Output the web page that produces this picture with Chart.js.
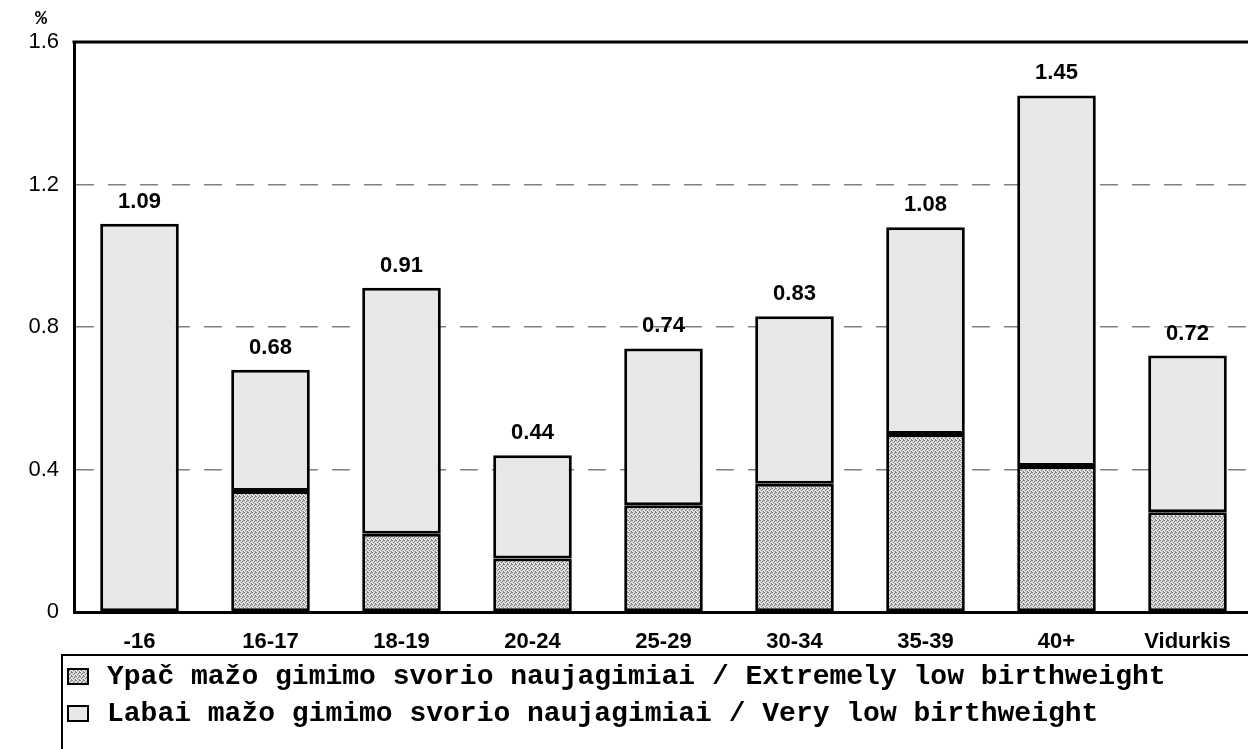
<!DOCTYPE html>
<html><head><meta charset="utf-8">
<script src="https://cdn.jsdelivr.net/npm/chart.js@4"></script>
<style>html,body{margin:0;padding:0;overflow:hidden;background:#fff}#wrap{width:1262px;height:749px;position:relative}</style>
</head><body><div id="wrap"><canvas id="c" width="1262" height="749"></canvas></div>
<script>
const categories = ['-16','16-17','18-19','20-24','25-29','30-34','35-39','40+','Vidurkis'];
const extremelyLow = [0, 0.34, 0.22, 0.15, 0.30, 0.36, 0.50, 0.41, 0.28];
const veryLow = [1.09, 0.34, 0.69, 0.29, 0.44, 0.47, 0.58, 1.04, 0.44];
const totals = [1.09, 0.68, 0.91, 0.44, 0.74, 0.83, 1.08, 1.45, 0.72];
const yTicks = [0, 0.4, 0.8, 1.2, 1.6];
const seriesNames = ['Ypač mažo gimimo svorio naujagimiai / Extremely low birthweight', 'Labai mažo gimimo svorio naujagimiai / Very low birthweight'];
const unitLabel = '%';

function makeStipple(){
  const p = document.createElement('canvas'); p.width = 4; p.height = 4;
  const g = p.getContext('2d');
  g.fillStyle = '#d4d4d4'; g.fillRect(0,0,4,4);
  g.fillStyle = '#7c7c7c';
  [[0,0],[2,1],[1,2],[3,3],[3,0]].forEach(([x,y])=>g.fillRect(x,y,1,1));
  g.fillStyle = '#f0f0f0';
  [[1,0],[3,2],[0,3]].forEach(([x,y])=>g.fillRect(x,y,1,1));
  return document.getElementById('c').getContext('2d').createPattern(p,'repeat');
}
const stipple = makeStipple();
const lightFill = '#e8e8e8';
const fills = [stipple, lightFill];

const extrasPlugin = {
  id: 'extras',
  afterDatasetsDraw(chart){
    const ctx = chart.ctx, a = chart.chartArea;
    ctx.save();
    ctx.strokeStyle = '#000'; ctx.lineWidth = 3;
    ctx.beginPath(); ctx.moveTo(a.left-1.5, a.top); ctx.lineTo(a.right+2, a.top); ctx.stroke();
    const meta = chart.getDatasetMeta(1);
    ctx.fillStyle = '#000';
    ctx.font = 'bold 22px "Liberation Sans", Arial, sans-serif';
    ctx.textAlign = 'center'; ctx.textBaseline = 'alphabetic';
    meta.data.forEach((bar,i)=>{
      ctx.fillText(totals[i].toFixed(2), bar.x, bar.y - 16);
    });
    ctx.font = 'bold 20px "Liberation Mono", "Courier New", monospace';
    ctx.textBaseline = 'middle';
    ctx.fillText(unitLabel, 41, 19);
    ctx.restore();
  },
  afterDraw(chart){
    const ctx = chart.ctx;
    ctx.save();
    const bx = 62, by = 655;
    ctx.strokeStyle = '#000'; ctx.lineWidth = 2;
    ctx.strokeRect(bx, by, 1300, 200);
    ctx.font = 'bold 28px "Liberation Mono", "Courier New", monospace';
    ctx.textAlign = 'left'; ctx.textBaseline = 'middle';
    const rows = [676, 713];
    seriesNames.forEach((name,i)=>{
      const y = rows[i];
      ctx.fillStyle = fills[i];
      ctx.fillRect(68, y-7, 20, 15);
      ctx.strokeStyle = '#000'; ctx.lineWidth = 2;
      ctx.strokeRect(68, y-7, 20, 15);
      ctx.fillStyle = '#000';
      ctx.fillText(name, 107, y+1);
    });
    ctx.restore();
  }
};

new Chart(document.getElementById('c'), {
  type: 'bar',
  data: {
    labels: categories,
    datasets: [
      { label: seriesNames[0], data: extremelyLow, backgroundColor: stipple, borderColor: '#000', borderWidth: 3, borderSkipped: false },
      { label: seriesNames[1], data: veryLow, backgroundColor: lightFill, borderColor: '#000', borderWidth: 3, borderSkipped: false }
    ]
  },
  options: {
    responsive: false,
    animation: false,
    layout: { padding: { top: 42, right: 9, bottom: 97, left: 0 } },
    datasets: { bar: { barPercentage: 0.6, categoryPercentage: 1 } },
    plugins: { legend: { display: false }, tooltip: { enabled: false }, title: { display: false } },
    scales: {
      x: {
        stacked: true,
        grid: { display: false, drawTicks: false },
        border: { display: true, color: '#000', width: 3 },
        ticks: { color: '#000', padding: 17, font: { family: '"Liberation Sans", Arial, sans-serif', size: 22, weight: 'bold' } },
        afterFit(s){ s.height = 40; }
      },
      y: {
        stacked: true,
        min: 0, max: 1.6,
        afterBuildTicks(s){ s.ticks = yTicks.map(v=>({value:v})); },
        grid: {
          drawTicks: false,
          color: c => (c.tick && c.tick.value > 0 && c.tick.value < 1.6) ? '#808080' : 'rgba(0,0,0,0)',
          lineWidth: 1.5
        },
        border: { display: true, color: '#000', width: 3, dash: [18, 14] },
        ticks: { color: '#000', padding: 15, font: { family: '"Liberation Sans", Arial, sans-serif', size: 22 },
          callback: v => v === 0 ? '0' : Number(v).toFixed(1) },
        afterFit(s){ s.width = 74; }
      }
    }
  },
  plugins: [extrasPlugin]
});
</script></body></html>
